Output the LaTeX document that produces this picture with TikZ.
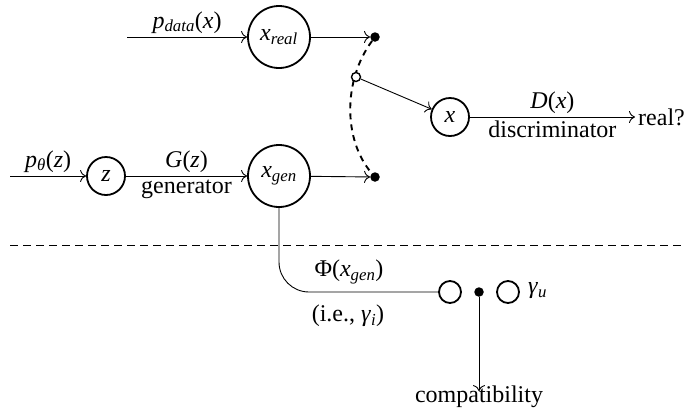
\documentclass[tikz,border=0pt]{standalone}
\usepackage{fontspec}
\setmainfont{Liberation Serif}
\usetikzlibrary{arrows.meta}
\begin{document}
\begin{tikzpicture}[x=1pt,y=-1pt,
  every node/.style={font=\fontsize{24}{28}\selectfont},
  big/.style={circle,draw,line width=1.8pt,minimum size=62pt,inner sep=0pt},
  small/.style={circle,draw,line width=1.8pt,minimum size=38pt,inner sep=0pt},
  tiny/.style={circle,draw,line width=1.8pt,minimum size=22pt,inner sep=0pt},
  dot/.style={circle,fill,inner sep=0pt,minimum size=9.5pt},
  odot/.style={circle,draw,fill=white,line width=1.4pt,inner sep=0pt,minimum size=9pt},
  arr/.style={-{To[length=6pt,width=12pt]},line width=0.9pt},
  conn/.style={line width=0.9pt},
  lbl/.style={inner sep=0pt}
]
\useasboundingbox (0,0) rectangle (692,408);
% top and generator row
\coordinate (in1) at (127,37);
\coordinate (in2) at (10,176);
\node[big] (xr) at (279,37) {\textit{x}\textsubscript{\itshape real}};
\node[big] (xg) at (279,176) {\textit{x}\textsubscript{\itshape gen}};
\node[small] (z) at (106,176) {\textit{z}};
\node[small] (x) at (450,117) {\textit{x}};
\node[dot] (d1) at (375,37) {};
\node[dot] (d2) at (375,177) {};
\node[inner sep=3pt,anchor=west] (real) at (635,117) {real?};
\draw[arr] (in1) -- node[above] {\textit{p}\textsubscript{\itshape data}(\textit{x})} (xr);
\draw[arr] (in2) -- node[above] {\textit{p}\textsubscript{\itshape θ}(\textit{z})} (z);
\draw[arr] (z) -- node[above] {\textit{G}(\textit{z})} node[below] {generator} (xg);
\draw[arr] (xr) -- (d1);
\draw[arr] (xg) -- (d2);
\draw[dashed,line width=1.9pt,dash pattern=on 6pt off 5pt] (d1) .. controls (343,80) and (343,140) .. (d2);
\node[odot] (o) at (356,77) {};
\draw[arr] (o) -- (x);
\draw[arr] (x) -- node[above] {\textit{D}(\textit{x})} node[below] {discriminator} (real);
% separator
\coordinate (s1) at (10,245);
\coordinate (s2) at (685,245);
\draw[conn,dash pattern=on 8pt off 5pt] (s1) -- (s2);
% bottom
\node[tiny] (c1) at (450,292) {};
\node[dot] (cd) at (479,292) {};
\node[tiny] (c2) at (508,292) {};
\node[lbl,anchor=west] (gu) at (528,291) {\textit{γ}\textsubscript{\itshape u}};
\draw[conn,rounded corners=30pt] (xg.south) |- (c1.west);
\node (phi) at (349,272) {Φ(\textit{x}\textsubscript{\itshape gen})};
\node (ie) at (348,316) {(i.e., \textit{γ}\textsubscript{\itshape i})};
\node[anchor=base,inner sep=0pt] (comp) at (479,402) {compatibility};
\draw[arr] (cd) -- ([yshift=-6pt]comp.north);
\end{tikzpicture}
\end{document}
